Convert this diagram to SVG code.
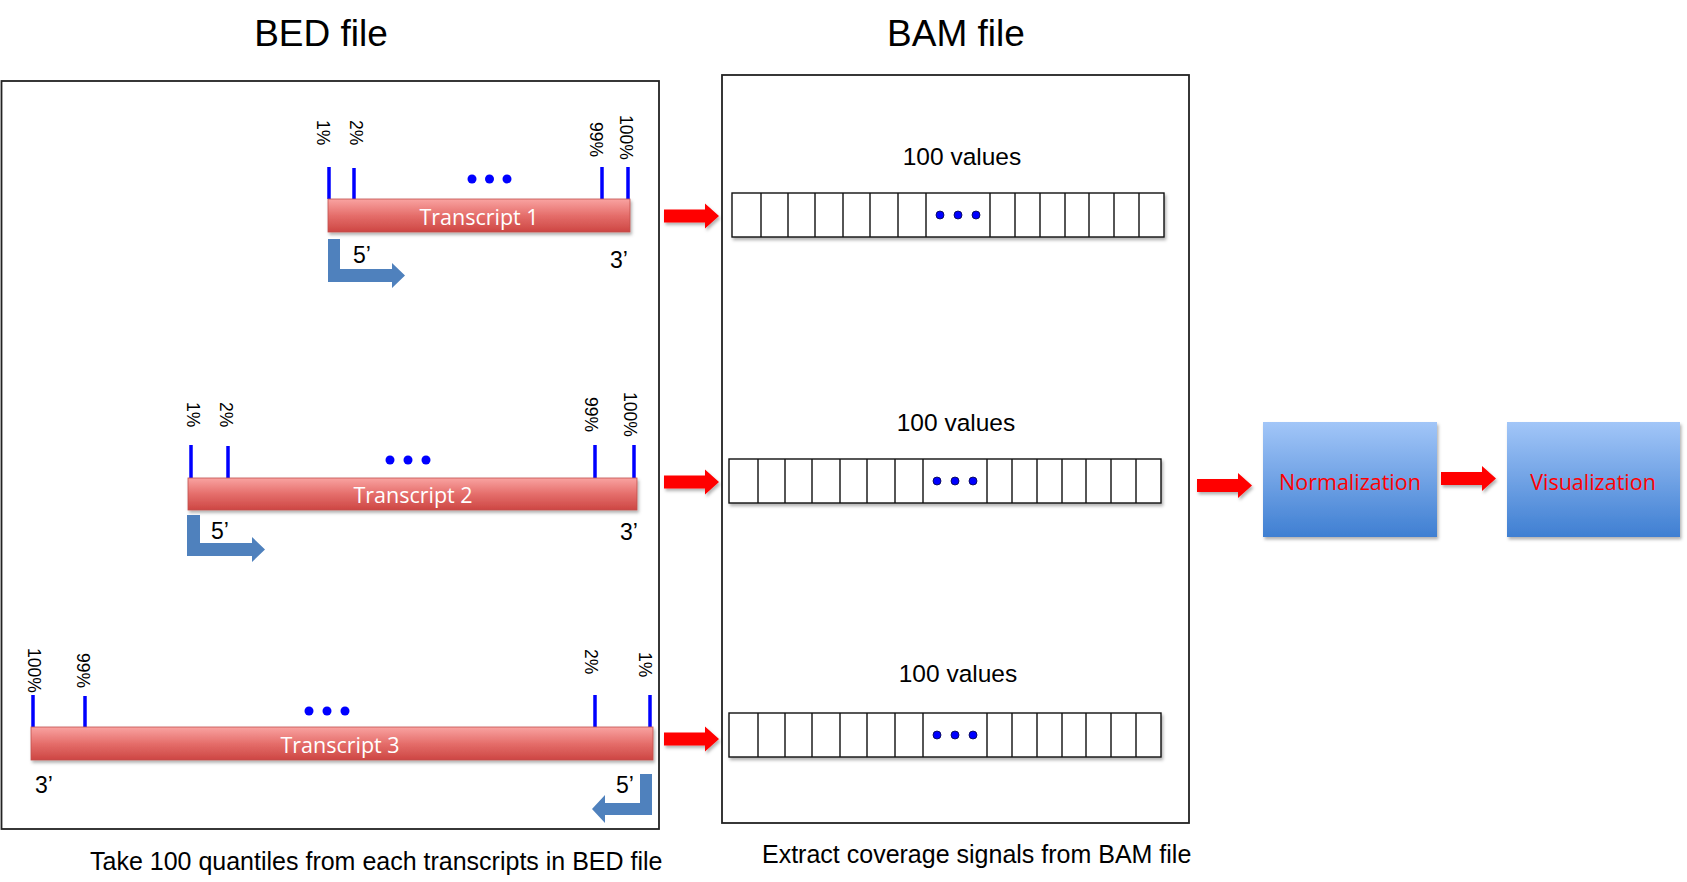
<svg xmlns="http://www.w3.org/2000/svg" xmlns:xlink="http://www.w3.org/1999/xlink" width="1687" height="882" viewBox="0 0 1687 882">
<defs>
  <linearGradient id="redbar" x1="0" y1="0" x2="0" y2="1">
    <stop offset="0" stop-color="#f9a3a1"/>
    <stop offset="0.5" stop-color="#e56e6b"/>
    <stop offset="1" stop-color="#cd4643"/>
  </linearGradient>
  <linearGradient id="bluebox" x1="0" y1="0" x2="0" y2="1">
    <stop offset="0" stop-color="#a2c6f8"/>
    <stop offset="1" stop-color="#3f7fd2"/>
  </linearGradient>
  <filter id="shadow" x="-10%" y="-20%" width="130%" height="160%">
    <feDropShadow dx="1.5" dy="2.5" stdDeviation="1.8" flood-color="#000" flood-opacity="0.3"/>
  </filter>
  <g id="cellrow">
    <rect x="0" y="0" width="432" height="44" fill="#fff" stroke="#111" stroke-width="1.4"/>
    <path d="M29,0V44M56,0V44M83,0V44M111,0V44M138,0V44M166,0V44M194,0V44M258,0V44M283,0V44M308,0V44M333,0V44M357,0V44M382,0V44M407,0V44" stroke="#111" stroke-width="1.4" fill="none"/>
    <circle cx="208" cy="22" r="4" class="cdot"/>
    <circle cx="226" cy="22" r="4" class="cdot"/>
    <circle cx="244" cy="22" r="4" class="cdot"/>
  </g>
  <path id="redarrow" d="M0,-6.5 L41,-6.5 L41,-12.5 L55,0 L41,12.5 L41,6.5 L0,6.5 Z" fill="#ff0000"/>
</defs>
<style>
  .title { font-family: "Liberation Sans", Arial, sans-serif; font-size: 37px; fill: #000; text-anchor: middle; }
  .cap { font-family: "Liberation Sans", Arial, sans-serif; font-size: 25px; fill: #000; }
  .vals { font-family: "Liberation Sans", Arial, sans-serif; font-size: 24.5px; fill: #000; text-anchor: middle; }
  .pct { font-family: "Liberation Sans", Arial, sans-serif; font-size: 17.5px; fill: #000; }
  .end { font-family: "Liberation Sans", Arial, sans-serif; font-size: 23px; fill: #000; }
  .tname { font-family: "Open Sans", sans-serif; font-size: 21.5px; fill: #fff; text-anchor: middle; }
  .step { font-family: "Open Sans", sans-serif; font-size: 21.5px; fill: #ff0000; text-anchor: middle; }
  .frame { fill: none; stroke: #222; stroke-width: 1.8; }
  .bar { fill: url(#redbar); stroke: #c0504d; stroke-width: 0.8; filter: url(#shadow); }
  .tick { stroke: #0000ff; stroke-width: 3.5; }
  .dot { fill: #0000ff; }
  .cdot { fill: #0000ff; stroke: #000040; stroke-width: 0.8; }
  .bent { fill: #4f81bd; }
  .box { fill: url(#bluebox); filter: url(#shadow); }
</style>

<rect x="0" y="0" width="1687" height="882" fill="#fff"/>

<text class="title" x="321" y="46">BED file</text>
<text class="title" x="956" y="46">BAM file</text>

<g id="bed-box">
  <rect class="frame" x="1.5" y="81" width="657.5" height="748"/>
</g>
<g id="bam-box">
  <rect class="frame" x="722" y="75" width="467" height="748"/>
</g>

<g id="transcript1">
  <line class="tick" x1="329" y1="167" x2="329" y2="199"/>
  <line class="tick" x1="354" y1="168" x2="354" y2="199"/>
  <line class="tick" x1="602" y1="167" x2="602" y2="199"/>
  <line class="tick" x1="628" y1="167" x2="628" y2="199"/>
  <text class="pct" transform="translate(317,120) rotate(90)">1%</text>
  <text class="pct" transform="translate(350,120) rotate(90)">2%</text>
  <text class="pct" transform="translate(590,122) rotate(90)">99%</text>
  <text class="pct" transform="translate(620,115) rotate(90)">100%</text>
  <circle class="dot" cx="472" cy="179" r="4.5"/>
  <circle class="dot" cx="489.5" cy="179" r="4.5"/>
  <circle class="dot" cx="507" cy="179" r="4.5"/>
  <rect class="bar" x="328" y="199" width="302" height="33"/>
  <text class="tname" x="479" y="225">Transcript 1</text>
  <path class="bent" d="M328,239 L340,239 L340,269 L392,269 L392,263 L405,275.5 L392,288 L392,282 L328,282 Z"/>
  <text class="end" x="353" y="263">5’</text>
  <text class="end" x="610" y="268">3’</text>
</g>

<g id="transcript2">
  <line class="tick" x1="191" y1="445" x2="191" y2="478"/>
  <line class="tick" x1="228" y1="446" x2="228" y2="478"/>
  <line class="tick" x1="595" y1="445" x2="595" y2="478"/>
  <line class="tick" x1="634" y1="445" x2="634" y2="478"/>
  <text class="pct" transform="translate(187,402) rotate(90)">1%</text>
  <text class="pct" transform="translate(220,402) rotate(90)">2%</text>
  <text class="pct" transform="translate(585,397) rotate(90)">99%</text>
  <text class="pct" transform="translate(624,392) rotate(90)">100%</text>
  <circle class="dot" cx="390" cy="460" r="4.5"/>
  <circle class="dot" cx="408" cy="460" r="4.5"/>
  <circle class="dot" cx="426" cy="460" r="4.5"/>
  <rect class="bar" x="188" y="478" width="449" height="32"/>
  <text class="tname" x="413" y="503">Transcript 2</text>
  <path class="bent" d="M187,515 L200,515 L200,543 L252,543 L252,537 L265,549.5 L252,562 L252,556 L187,556 Z"/>
  <text class="end" x="211" y="539">5’</text>
  <text class="end" x="620" y="540">3’</text>
</g>

<g id="transcript3">
  <line class="tick" x1="33" y1="695" x2="33" y2="727"/>
  <line class="tick" x1="85" y1="696" x2="85" y2="727"/>
  <line class="tick" x1="595" y1="695" x2="595" y2="727"/>
  <line class="tick" x1="650" y1="695" x2="650" y2="727"/>
  <text class="pct" transform="translate(28,648) rotate(90)">100%</text>
  <text class="pct" transform="translate(77,653) rotate(90)">99%</text>
  <text class="pct" transform="translate(585,649) rotate(90)">2%</text>
  <text class="pct" transform="translate(639,652) rotate(90)">1%</text>
  <circle class="dot" cx="309" cy="711" r="4.5"/>
  <circle class="dot" cx="327" cy="711" r="4.5"/>
  <circle class="dot" cx="345" cy="711" r="4.5"/>
  <rect class="bar" x="31" y="727" width="622" height="33"/>
  <text class="tname" x="340" y="753">Transcript 3</text>
  <path class="bent" d="M652,774 L640,774 L640,803 L605,803 L605,795 L592,809 L605,823 L605,815 L652,815 Z"/>
  <text class="end" x="35" y="793">3’</text>
  <text class="end" x="616" y="793">5’</text>
</g>

<g id="values1">
  <text class="vals" x="962" y="165">100 values</text>
  <use xlink:href="#cellrow" href="#cellrow" transform="translate(732,193)" filter="url(#shadow)"/>
</g>
<g id="values2">
  <text class="vals" x="956" y="431">100 values</text>
  <use xlink:href="#cellrow" href="#cellrow" transform="translate(729,459)" filter="url(#shadow)"/>
</g>
<g id="values3">
  <text class="vals" x="958" y="682">100 values</text>
  <use xlink:href="#cellrow" href="#cellrow" transform="translate(729,713)" filter="url(#shadow)"/>
</g>

<g id="normalization">
  <rect class="box" x="1263" y="422" width="174" height="115"/>
  <text class="step" x="1350" y="490">Normalization</text>
</g>
<g id="visualization">
  <rect class="box" x="1507" y="422" width="173" height="115"/>
  <text class="step" x="1593" y="490">Visualization</text>
</g>

<g id="connectors" filter="url(#shadow)">
  <use xlink:href="#redarrow" href="#redarrow" transform="translate(664,216)"/>
  <use xlink:href="#redarrow" href="#redarrow" transform="translate(664,482)"/>
  <use xlink:href="#redarrow" href="#redarrow" transform="translate(664,739)"/>
  <use xlink:href="#redarrow" href="#redarrow" transform="translate(1197,485.5)"/>
  <use xlink:href="#redarrow" href="#redarrow" transform="translate(1441,478.5)"/>
</g>

<text class="cap" x="90" y="870">Take 100 quantiles from each transcripts in BED file</text>
<text class="cap" x="762" y="863">Extract coverage signals from BAM file</text>
</svg>
